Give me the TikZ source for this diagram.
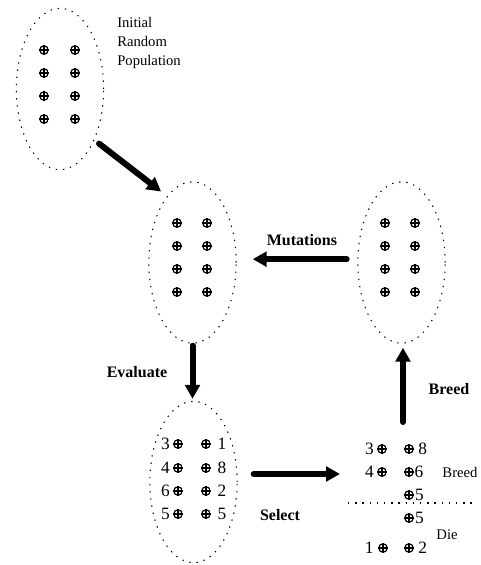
\documentclass[tikz,border=0pt]{standalone}
\usepackage{fontspec}
\setmainfont{Liberation Serif}
\usetikzlibrary{arrows.meta, positioning, shapes.geometric}

\begin{document}
\begin{tikzpicture}[
  x=0.75pt, y=-0.75pt,
  pop/.style = {draw, ellipse, line width=0.8pt, dash pattern=on 1pt off 4.4pt, minimum width=65.5pt, minimum height=121pt, inner sep=0pt},
  ind/.style = {circle, minimum size=7.8pt, inner sep=0pt,
    path picture={\draw[line width=0.9pt] (path picture bounding box.center) circle[radius=3.2pt];
      \draw[line width=0.9pt] (path picture bounding box.north) -- (path picture bounding box.south)
      (path picture bounding box.west) -- (path picture bounding box.east);}},
  num/.style = {font=\fontsize{13}{15}\selectfont, inner sep=0pt},
  note/.style = {font=\fontsize{11}{14.25}\selectfont, align=left, inner sep=0pt},
  step label/.style = {font=\bfseries\fontsize{12}{14}\selectfont, inner sep=0pt},
  arrow/.style = {line width=4.5pt, line cap=round, -{Triangle[length=10.5pt, width=11pt]}}
]
  \useasboundingbox (0,0) rectangle (480,565);

  % Populations
  \node[pop] (init) at (60,89) {};
  \node[pop] (eval) at (192.5,262.5) {};
  \node[pop] (mut) at (401.5,262.5) {};
  \node[pop] (sel) at (193.5,482) {};

  % Individuals
  \foreach \y [count=\r] in {50,73,96,119} {
    \node[ind] (init\r a) at (44,\y) {};
    \node[ind] (init\r b) at (75,\y) {};
    \node[ind] (eval\r a) at (177,\y+173) {};
    \node[ind] (eval\r b) at (207,\y+173) {};
    \node[ind] (mut\r a) at (385,\y+173) {};
    \node[ind] (mut\r b) at (415,\y+173) {};
  }

  % Ranked individuals
  \foreach \y/\lft/\rgt [count=\r] in {444/3/1, 468/4/8, 491/6/2, 514/5/5} {
    \node[ind, label={[num, label distance=1.8pt]left:\lft}] (sel\r a) at (178,\y) {};
    \node[ind, label={[num, label distance=4.4pt]right:\rgt}] (sel\r b) at (206,\y) {};
  }

  % Breed and die
  \node[ind, label={[num, label distance=1.8pt]left:3}] (brd1a) at (382,449) {};
  \node[ind, label={[num, label distance=2.8pt]right:8}] (brd1b) at (409,449) {};
  \node[ind, label={[num, label distance=1.8pt]left:4}] (brd2a) at (382,472) {};
  \node[ind, label={[num, label distance=0pt]right:6}] (brd2b) at (409,472) {};
  \node[ind, label={[num, label distance=0.2pt]right:5}] (brd3b) at (409,495) {};
  \node[ind, label={[num, label distance=0.2pt]right:5}] (die1b) at (409,518) {};
  \node[ind, label={[num, label distance=2.8pt]left:1}] (die2a) at (383,548) {};
  \node[ind, label={[num, label distance=2.8pt]right:2}] (die2b) at (409,548) {};

  \coordinate (cutl) at (348,503);
  \coordinate (cutr) at (475,503);
  \draw[line width=0.8pt, dash pattern=on 1pt off 4.4pt] (cutl) -- (cutr);

  \node[note] (breedtxt) at (460,472) {Breed};
  \node[note] (dietxt) at (447,535) {Die};

  % Texts
  \node[note, anchor=west] (inittxt) at (117,43) {Initial\\Random\\Population};
  \node[step label] (mutlbl) at (302,240) {Mutations};
  \node[step label] (evallbl) at (137,372) {Evaluate};
  \node[step label] (sellbl) at (280,515) {Select};
  \node[step label] (brdlbl) at (449,389) {Breed};

  % Arrows
  \draw[arrow, shorten <=4.4pt, shorten >=5.6pt] (init.-56.5) -- (eval.111.8);
  \draw[arrow, shorten <=1.5pt, shorten >=1.5pt] (eval.south) -- (eval.south |- sel.north);
  \coordinate (selout) at (340,474);
  \draw[arrow, shorten <=12pt] (sel.east |- selout) -- (selout);
  \coordinate (breedin) at (403,422);
  \draw[arrow, shorten >=3pt] (breedin) -- (breedin |- mut.south);
  \draw[arrow, shorten <=8pt, shorten >=12pt] ([yshift=2.5pt]mut.west) -- ([yshift=2.5pt]eval.east);

\end{tikzpicture}
\end{document}
